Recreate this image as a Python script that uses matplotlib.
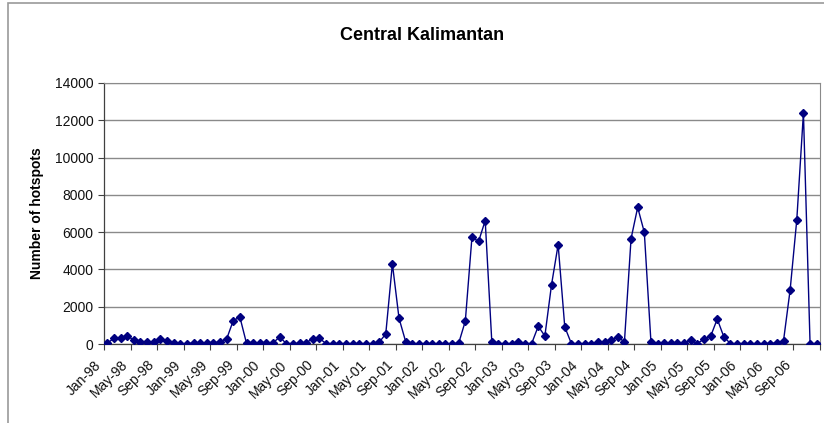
# -*- coding: utf-8 -*-
"""
Central Kalimantan - monthly hotspot counts, Jan-98 .. Dec-06
"""

import matplotlib
matplotlib.use('Agg')
import matplotlib.pyplot as plt
from matplotlib.patches import Rectangle

plt.rcParams['font.family'] = ['Liberation Sans', 'DejaVu Sans']

# month labels shown on the axis (every 4th month)
tick_labels = ['Jan-98', 'May-98', 'Sep-98', 'Jan-99', 'May-99', 'Sep-99',
               'Jan-00', 'May-00', 'Sep-00', 'Jan-01', 'May-01', 'Sep-01',
               'Jan-02', 'May-02', 'Sep-02', 'Jan-03', 'May-03', 'Sep-03',
               'Jan-04', 'May-04', 'Sep-04', 'Jan-05', 'May-05', 'Sep-05',
               'Jan-06', 'May-06', 'Sep-06']

# monthly hotspot counts, one row per year
hotspots_1998 = [50, 300, 300, 450, 200, 130, 130, 90, 270, 180, 30, 20]
hotspots_1999 = [20, 40, 40, 40, 40, 130, 270, 1260, 1440, 30, 30, 30]
hotspots_2000 = [30, 60, 380, 20, 20, 30, 80, 280, 300, 20, 20, 20]
hotspots_2001 = [20, 20, 20, 20, 20, 90, 540, 4300, 1380, 130, 20, 20]
hotspots_2002 = [20, 20, 20, 20, 20, 40, 1230, 5730, 5500, 6620, 90, 20]
hotspots_2003 = [20, 20, 130, 20, 20, 950, 430, 3170, 5330, 920, 20, 20]
hotspots_2004 = [20, 20, 90, 90, 200, 380, 110, 5650, 7330, 5990, 110, 20]
hotspots_2005 = [50, 50, 50, 50, 200, 20, 270, 410, 1340, 380, 20, 20]
hotspots_2006 = [20, 20, 20, 20, 20, 50, 180, 2920, 6670, 12400, 20, 20]

hotspots = (hotspots_1998 + hotspots_1999 + hotspots_2000 + hotspots_2001 +
            hotspots_2002 + hotspots_2003 + hotspots_2004 + hotspots_2005 +
            hotspots_2006)
months = list(range(len(hotspots)))

fig = plt.figure(figsize=(8.24, 4.23), dpi=100)
ax = fig.add_axes([104 / 824, 1 - 344 / 423, 716 / 824, 261 / 423])

# outer chart frame (Excel chart area)
fig.patches.append(Rectangle((8 / 824, -0.1), 1.2, 1 - 3 / 423 + 0.1,
                             transform=fig.transFigure, fill=False,
                             edgecolor='#9a9a9a', linewidth=1.2))

ax.plot(months, hotspots, color='#000080', linewidth=1.0,
        marker='D', markersize=4.3, markerfacecolor='#000080',
        markeredgecolor='#000080', zorder=3)

# y axis
ax.set_ylim(0, 14000)
ax.set_yticks(range(0, 14001, 2000))
ax.yaxis.grid(True, color='#8a8a8a', linewidth=1.0)
ax.set_axisbelow(True)
ax.set_ylabel('Number of hotspots', fontsize=10, fontweight='bold', labelpad=8)

# x axis: ticks between categories, every 4 months
ax.set_xlim(-0.5, len(hotspots) - 0.5)
tick_pos = [k * 4 - 0.5 for k in range(len(tick_labels) + 1)]
ax.set_xticks(tick_pos)
ax.set_xticklabels(tick_labels + [''], rotation=45, ha='right')

ax.tick_params(axis='both', direction='out', length=4, width=0.8,
               colors='#404040', labelcolor='#111111', labelsize=10)
ax.tick_params(axis='x', pad=6)

for side in ['top', 'right']:
    ax.spines[side].set_color('#8a8a8a')
for side in ['left', 'bottom']:
    ax.spines[side].set_color('#404040')
    ax.spines[side].set_linewidth(0.9)

fig.text(422 / 824, 1 - 35 / 423, 'Central Kalimantan', fontsize=13,
         fontweight='bold', ha='center', va='center')

fig.savefig('out.png', dpi=100)
